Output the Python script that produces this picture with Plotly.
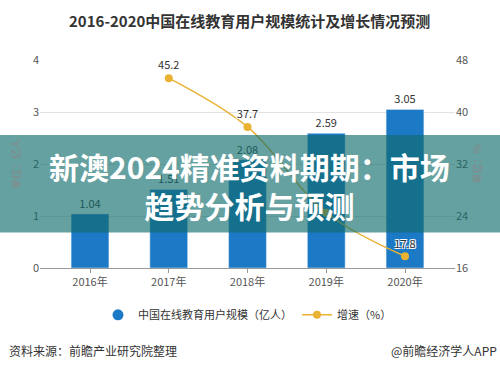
import plotly.graph_objects as go

years = ["2016年", "2017年", "2018年", "2019年", "2020年"]
users = [1.04, 1.51, 2.08, 2.59, 3.05]
growth_years = ["2017年", "2018年", "2019年", "2020年"]
growth = [45.2, 37.7, 24.5, 17.8]
growth_labels = ["45.2", "37.7", "", "17.8"]

title_text = "2016-2020中国在线教育用户规模统计及增长情况预测"
overlay_text = "新澳2024精准资料期期：市场<br>趋势分析与预测"
bar_name = "中国在线教育用户规模（亿人）"
line_name = "增速（%）"

FONT = "Noto Sans CJK SC"
BLUE = "#1C79C6"
GOLD = "#E9B232"

fig = go.Figure()
fig.add_trace(go.Bar(
    x=years, y=users, name=bar_name, marker_color=BLUE, width=0.48,
    text=[f"{v:.2f}" for v in users], textposition="outside",
    textfont=dict(size=11, color="#333333", family=FONT),
    cliponaxis=False, showlegend=False,
))
# legend entry with circle marker for the bars
fig.add_trace(go.Scatter(
    x=[None], y=[None], name=bar_name, mode="markers",
    marker=dict(color=BLUE, size=11, symbol="circle"), showlegend=True,
))
fig.add_trace(go.Scatter(
    x=growth_years, y=growth, name=line_name, yaxis="y2",
    mode="lines+markers+text", line=dict(color=GOLD, width=1.5, shape="spline"),
    marker=dict(color=GOLD, size=8),
    text=growth_labels, textposition="top center",
    textfont=dict(size=11, color="#333333", family=FONT,
                  shadow="1px 1px 0px white, -1px -1px 0px white, 1px -1px 0px white, -1px 1px 0px white"),
    cliponaxis=False,
))

fig.update_layout(
    width=500, height=369,
    margin=dict(l=40, r=45, t=60, b=101),
    paper_bgcolor="white", plot_bgcolor="white",
    font=dict(family=FONT, color="#555555", size=11),
    showlegend=True,
    legend=dict(orientation="h", x=0.5, xanchor="center", y=-0.225, yanchor="middle",
                font=dict(size=11, color="#333333"), itemwidth=30),
    xaxis=dict(
        range=[-0.635, 4.635], showgrid=False, showline=True, linecolor="#999999",
        ticks="outside", ticklen=4, tickcolor="#999999",
        tickfont=dict(size=11, color="#555555"),
    ),
    yaxis=dict(
        range=[0, 4], dtick=1, showgrid=True, gridcolor="#E3E3E3", zeroline=False,
        tickfont=dict(size=11, color="#555555"),
        title=dict(text="单位：亿人", font=dict(size=10, color="#888888"), standoff=10),
    ),
    yaxis2=dict(
        range=[16, 48], dtick=8, overlaying="y", side="right", showgrid=False,
        zeroline=False, tickfont=dict(size=11, color="#555555"),
        title=dict(text="单位：%", font=dict(size=10, color="#888888"), standoff=6),
    ),
)

fig.add_annotation(
    text=title_text, xref="paper", yref="paper", x=(250-40)/415, y=1,
    yshift=40, yanchor="middle", showarrow=False,
    font=dict(size=15, color="#333333", family=FONT, weight="bold"),
)

# teal overlay band
fig.add_shape(
    type="rect", xref="paper", yref="paper",
    x0=-40/415, x1=1+45/415, y0=(268-232.5)/208, y1=(268-135)/208,
    fillcolor="rgba(15,108,108,0.64)", line=dict(width=0), layer="above",
)
fig.add_annotation(
    text=overlay_text, xref="paper", yref="paper",
    x=(250-40)/415, y=(268-185)/208, showarrow=False,
    font=dict(size=30, color="white", family=FONT, weight="bold"),
    align="center",
)

fig.add_annotation(
    text="资料来源：前瞻产业研究院整理", xref="paper", yref="paper",
    x=-33/415, y=-(350-268)/208, xanchor="left", yanchor="middle", showarrow=False,
    font=dict(size=12, color="#333333", family=FONT),
)
fig.add_annotation(
    text="@前瞻经济学人APP", xref="paper", yref="paper",
    x=1+44/415, y=-(350-268)/208, xanchor="right", yanchor="middle", showarrow=False,
    font=dict(size=12, color="#333333", family=FONT),
)

fig.write_html("out.html", config={"displayModeBar": False},
               post_script="document.body.style.margin='0';")
